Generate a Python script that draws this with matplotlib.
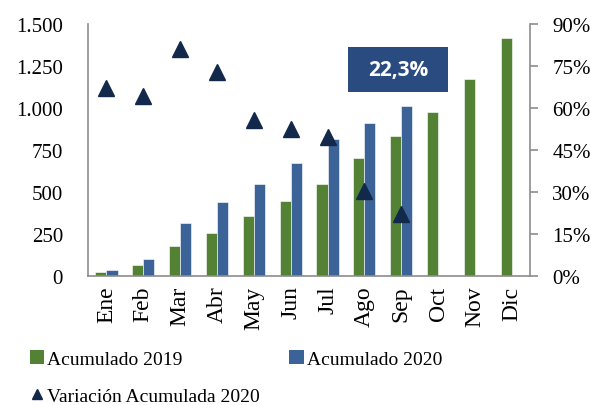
import numpy as np
import matplotlib.pyplot as plt
from matplotlib.lines import Line2D
from matplotlib.patches import Patch, Rectangle

# Data
months = ['Ene', 'Feb', 'Mar', 'Abr', 'May', 'Jun', 'Jul', 'Ago', 'Sep', 'Oct', 'Nov', 'Dic']
acum_2019 = [24, 63, 178, 257, 357, 448, 549, 702, 834, 975, 1171, 1418]
acum_2020 = [33, 99, 317, 442, 549, 675, 816, 911, 1011]
var_2020 = [67.1, 64.4, 81.1, 72.9, 55.9, 52.5, 49.6, 30.5, 22.3]
highlight = '22,3%'

GREEN = '#548235'
BLUE = '#3c6398'
NAVY = '#13294b'
BOX = '#2a4b80'
GRAY = '#8c8c8c'

plt.rcParams['font.family'] = ['Liberation Serif', 'DejaVu Serif']


def thousands(v, pos):
    return f'{int(v):,}'.replace(',', '.')


def main():
    fig = plt.figure(figsize=(5.91, 4.06), dpi=100)
    ax = fig.add_axes([0.149, 0.318, 0.748, 0.620])

    x = np.arange(len(months))
    w = 0.30
    ax.bar(x - w / 2, acum_2019, width=w, color=GREEN, edgecolor='white', linewidth=0.4, zorder=2)
    ax.bar(x[:len(acum_2020)] + w / 2, acum_2020, width=w, color=BLUE, edgecolor='white', linewidth=0.4, zorder=2)

    ax.set_xlim(-0.5, len(months) - 0.5)
    ax.set_ylim(0, 1500)
    ax.set_yticks(np.arange(0, 1501, 250))
    ax.yaxis.set_major_formatter(plt.FuncFormatter(thousands))
    ax.set_xticks(x)
    ax.set_xticklabels(months, rotation=90)
    ax.tick_params(axis='x', length=0, labelsize=17, pad=7)
    ax.tick_params(axis='y', length=0, labelsize=15, pad=18)

    for s in ['top', 'right']:
        ax.spines[s].set_visible(False)
    for s in ['left', 'bottom']:
        ax.spines[s].set_color(GRAY)
        ax.spines[s].set_linewidth(1.2)

    ax2 = ax.twinx()
    ax2.plot(x[:len(var_2020)], var_2020, linestyle='none', marker='^', markersize=12,
             color=NAVY, zorder=3)
    ax2.set_ylim(0, 90)
    ax2.set_yticks(np.arange(0, 91, 15))
    ax2.yaxis.set_major_formatter(plt.FuncFormatter(lambda v, p: f'{v:.0f}%'))
    ax2.tick_params(axis='y', length=6, width=1.2, color=GRAY, labelsize=15, pad=10)
    for s in ['top', 'left', 'bottom']:
        ax2.spines[s].set_visible(False)
    ax2.spines['right'].set_color(GRAY)
    ax2.spines['right'].set_linewidth(1.2)

    # Highlight label box
    ax2.add_patch(Rectangle((6.56, 65.7), 2.7, 16.0, facecolor=BOX, edgecolor='none',
                           zorder=4, clip_on=False))
    ax2.text(7.91, 73.7, highlight, ha='center', va='center', fontsize=15,
             fontweight='bold', color='white', family=['Open Sans', 'DejaVu Sans'], zorder=5)

    handles = [Patch(facecolor=GREEN, label='Acumulado 2019'),
               Line2D([], [], linestyle='none', marker='^', markersize=7, color=NAVY,
                      label='Variación Acumulada 2020'),
               Patch(facecolor=BLUE, label='Acumulado 2020')]
    fig.legend(handles=handles, ncol=2, loc='upper left', bbox_to_anchor=(0.034, 0.16),
               frameon=False, fontsize=14, handlelength=0.75, handleheight=0.75,
               handletextpad=0.15, columnspacing=1.5, labelspacing=1.0, borderpad=0)

    fig.savefig('out.png', dpi=100)
    plt.close(fig)


if __name__ == '__main__':
    main()
